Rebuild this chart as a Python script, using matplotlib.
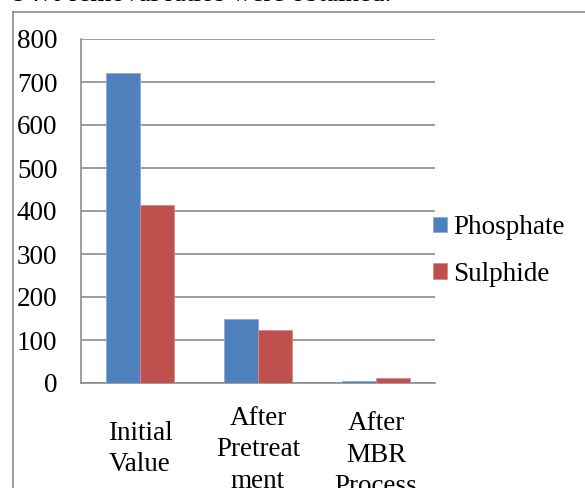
import matplotlib
matplotlib.use('Agg')
import matplotlib.pyplot as plt
from matplotlib.lines import Line2D
from matplotlib.transforms import blended_transform_factory
import numpy as np

plt.rcParams['font.family'] = ['Liberation Serif', 'DejaVu Serif']
plt.rcParams['font.size'] = 19.5

categories = ['Initial\nValue', 'After\nPretreat\nment', 'After\nMBR\nProcess']
phosphate = [720, 150, 5]
sulphide = [415, 123, 12]
yticks = [0, 100, 200, 300, 400, 500, 600, 700, 800]

W, H = 585, 488
fig = plt.figure(figsize=(W / 100, H / 100), dpi=100)

# plot area in pixel coordinates of the reference
left, right, top, bottom = 81, 435, 39, 383
ax = fig.add_axes([left / W, 1 - bottom / H, (right - left) / W, (bottom - top) / H])

grey = '#8c8c8c'
x = np.arange(len(categories))
bw = 0.285
ax.bar(x - bw / 2, phosphate, bw, color='#4F81BD', edgecolor='#8BA9D6', linewidth=0.6,
       label='Phosphate', zorder=3)
ax.bar(x + bw / 2, sulphide, bw, color='#C0504D', edgecolor='#DA8A88', linewidth=0.6,
       label='Sulphide', zorder=3)

ax.set_xlim(-0.5, len(categories) - 0.5)
ax.set_ylim(0, 800)
ax.set_yticks(yticks)
ax.yaxis.grid(True, color=grey, linewidth=1.2)
ax.set_axisbelow(True)
ax.tick_params(axis='y', length=0, pad=17)
ax.set_xticks([])
for s in ['top', 'right']:
    ax.spines[s].set_visible(False)
for s in ['left', 'bottom']:
    ax.spines[s].set_color(grey)
    ax.spines[s].set_linewidth(1.2)

# category labels, centred vertically under each group
label_y = [449, 450, 455]
trans = blended_transform_factory(ax.transData, fig.transFigure)
for xi, lab, ly in zip(x, categories, label_y):
    ax.text(xi, 1 - ly / H, lab, transform=trans, ha='center', va='center',
            linespacing=1.33)

ax.legend(loc='center left', bbox_to_anchor=(433 / W, 1 - 251 / H),
          bbox_transform=fig.transFigure, frameon=False, borderaxespad=0,
          borderpad=0, handlelength=0.52, handleheight=0.52, handletextpad=0.22,
          labelspacing=0.8)

# outer frame of the chart, partly cut off
fig.add_artist(Line2D([13 / W, 13 / W], [0, 1 - 12 / H], color=grey, lw=1.2,
                      transform=fig.transFigure))
fig.add_artist(Line2D([13 / W, 1], [1 - 12 / H, 1 - 12 / H], color=grey, lw=1.2,
                      transform=fig.transFigure))

# caption line from the page above, mostly cut off as in the source
fig.text(13 / W, 1 - 1 / H, '94% removal ratios were obtained.', ha='left',
         va='baseline')

fig.savefig('out.png', dpi=100)
